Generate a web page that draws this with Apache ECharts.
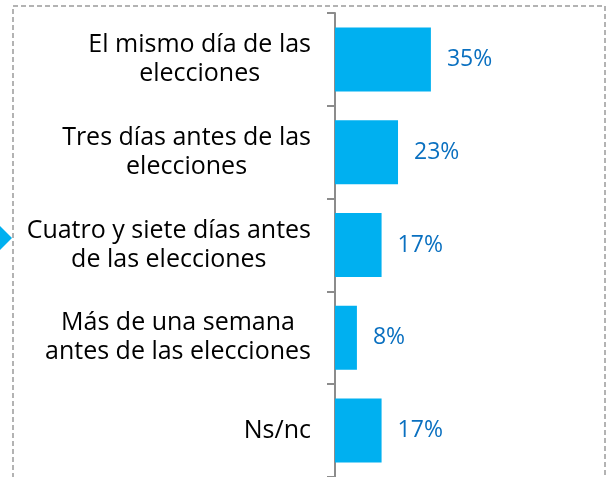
<!DOCTYPE html>
<html>
<head>
<meta charset="utf-8">
<script src="https://cdn.jsdelivr.net/npm/echarts@6/dist/echarts.min.js"></script>
<style>
  html, body { margin: 0; padding: 0; background: #fff; }
  #chart { width: 614px; height: 477px; }
</style>
</head>
<body>
<div id="chart"></div>
<script>
// datos: momento de decisión del voto
var categorias = [
    'El mismo día de las\nelecciones',
    'Tres días antes de las\nelecciones',
    'Cuatro y siete días antes\nde las elecciones',
    'Más de una semana\nantes de las elecciones',
    'Ns/nc'
];
var porcentajes = [35, 23, 17, 8, 17];

var myChart = echarts.init(document.getElementById('chart'));

var option = {
    animation: false,
    grid: { left: 335, top: 13, width: 274, height: 465 },
    graphic: [
        {
            type: 'rect',
            shape: { x: 13, y: 6, width: 592, height: 500 },
            style: { fill: 'none', stroke: '#b3b3b3', lineWidth: 2, lineDash: [5, 3] },
            z: -1
        },
        {
            type: 'polygon',
            shape: { points: [[-1, 225], [12, 238], [-1, 251]] },
            style: { fill: '#00b0f0' }
        }
    ],
    xAxis: {
        type: 'value',
        min: 0,
        max: 100,
        show: false
    },
    yAxis: {
        type: 'category',
        inverse: true,
        data: categorias,
        axisLine: { show: true, lineStyle: { color: '#8c8c8c', width: 2 } },
        axisTick: { show: true, length: 8, lineStyle: { color: '#8c8c8c', width: 2 } },
        axisLabel: {
            margin: 24,
            formatter: function (v) {
                return v.split('\n').map(function (l) { return '{c|' + l + '}'; }).join('\n');
            },
            rich: {
                c: {
                    align: 'center',
                    fontFamily: 'Open Sans',
                    fontSize: 25,
                    lineHeight: 29,
                    color: '#000'
                }
            }
        }
    },
    series: [
        {
            type: 'bar',
            data: porcentajes,
            barWidth: 64,
            itemStyle: { color: '#00b0f0' },
            label: {
                show: true,
                position: 'right',
                distance: 16,
                formatter: '{c}%',
                fontFamily: 'Open Sans',
                fontSize: 23,
                color: '#0a70c0'
            }
        }
    ]
};

myChart.setOption(option);
</script>
</body>
</html>
